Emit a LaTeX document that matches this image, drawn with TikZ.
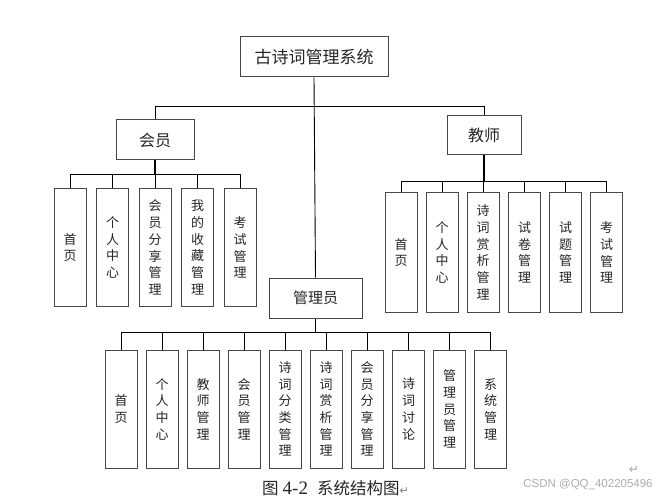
\documentclass[tikz,border=0pt]{standalone}
\usepackage{fontspec}
\setmainfont{Liberation Serif}
\newfontfamily\cjk{Noto Sans CJK SC}
\newfontfamily\dv{DejaVu Sans}
\newfontfamily\lsans{Liberation Sans}
\begin{document}
\begin{tikzpicture}[x=1pt,y=-1pt,
  box/.style={draw=black!72,line width=1pt,fill=white,inner sep=0pt,text=black!85,align=center},
  topbox/.style={box,minimum width=148pt,minimum height=40pt,font=\cjk\fontsize{17}{20}\selectfont},
  midbox/.style={box,minimum height=40pt,font=\cjk\fontsize{16}{19}\selectfont},
  leaf/.style={box,minimum width=32pt,font=\cjk\fontsize{13}{16.7}\selectfont},
  conn/.style={draw=black,line width=0.9pt}]
\useasboundingbox (0,0) rectangle (672,497);
\fill[white] (0,0) rectangle (672,497);

% top levels
\node[topbox] (top) at (314,57) {古诗词管理系统};
\node[midbox,minimum width=78pt] (m) at (155,140) {会员};
\node[midbox,minimum width=74pt,minimum height=39pt] (t) at (484,135.5) {教师};
\node[midbox,minimum width=93pt,font=\cjk\fontsize{15}{18}\selectfont] (a) at (315.5,298) {管理员};

\coordinate (tb) at (314,106);
\coordinate (mb) at (155,174.3);
\coordinate (teb) at (484,181);
\coordinate (ab) at (315.5,332);

% member leaves
\node[leaf,minimum height=117pt] (m1) at (70,247.5) {首\\页};
\node[leaf,minimum height=117pt] (m2) at (112.5,247.5) {个\\人\\中\\心};
\node[leaf,minimum height=117pt] (m3) at (155,247.5) {会\\员\\分\\享\\管\\理};
\node[leaf,minimum height=117pt] (m4) at (197.5,247.5) {我\\的\\收\\藏\\管\\理};
\node[leaf,minimum height=117pt] (m5) at (240,247.5) {考\\试\\管\\理};

% teacher leaves
\node[leaf,minimum height=119pt] (t1) at (401,252.5) {首\\页};
\node[leaf,minimum height=119pt] (t2) at (442,252.5) {个\\人\\中\\心};
\node[leaf,minimum height=119pt] (t3) at (483,252.5) {诗\\词\\赏\\析\\管\\理};
\node[leaf,minimum height=119pt] (t4) at (524.5,252.5) {试\\卷\\管\\理};
\node[leaf,minimum height=119pt] (t5) at (565.5,252.5) {试\\题\\管\\理};
\node[leaf,minimum height=119pt] (t6) at (606.5,252.5) {考\\试\\管\\理};

% admin leaves
\node[leaf,minimum height=118pt] (a1) at (121,409) {首\\页};
\node[leaf,minimum height=118pt] (a2) at (162,409) {个\\人\\中\\心};
\node[leaf,minimum height=118pt] (a3) at (203,409) {教\\师\\管\\理};
\node[leaf,minimum height=118pt] (a4) at (244,409) {会\\员\\管\\理};
\node[leaf,minimum height=118pt] (a5) at (285,409) {诗\\词\\分\\类\\管\\理};
\node[leaf,minimum height=118pt] (a6) at (326,409) {诗\\词\\赏\\析\\管\\理};
\node[leaf,minimum height=118pt] (a7) at (367,409) {会\\员\\分\\享\\管\\理};
\node[leaf,minimum height=118pt] (a8) at (408.5,409) {诗\\词\\讨\\论};
\node[leaf,minimum height=118pt] (a9) at (449.5,409) {管\\理\\员\\管\\理};
\node[leaf,minimum height=118pt] (a10) at (490.5,409) {系\\统\\管\\理};

% connectors
\draw[conn] (top.south) -- (a.north);
\draw[conn] (m.north) -- (m.north |- tb) -- (t.north |- tb) -- (t.north);

\draw[conn,line width=1.4pt] (m.south) -- (mb);
\draw[conn] (m1.north |- mb) -- (m5.north |- mb);
\foreach \i in {1,...,5} \draw[conn] (m\i.north) -- (m\i.north |- mb);

\draw[conn,line width=1.2pt] (t.south) -- (teb);
\draw[conn] (t1.north |- teb) -- (t6.north |- teb);
\foreach \i in {1,...,6} \draw[conn] (t\i.north) -- (t\i.north |- teb);

\draw[conn,line width=1.4pt] (a.south) -- (ab);
\draw[conn] (a1.north |- ab) -- (a10.north |- ab);
\foreach \i in {1,...,10} \draw[conn] (a\i.north) -- (a\i.north |- ab);

% caption and watermark
\node[anchor=base west,inner sep=0pt,text=black!85] (cap) at (262,494)
  {\cjk\fontsize{16.5}{19}\selectfont 图\hspace{4pt}{\rmfamily\fontsize{19}{20}\selectfont 4-2}\hspace{9pt}系统结构图{\dv\fontsize{11}{13}\selectfont\color{black!50}↵}};
\node[inner sep=0pt,text=black!35] (ret) at (634,470) {\dv\fontsize{12}{14}\selectfont ↵};
\node[inner sep=0pt,text=black!32] (wm) at (588,484) {\lsans\fontsize{11.5}{13}\selectfont CSDN @QQ\_402205496};
\end{tikzpicture}
\end{document}
